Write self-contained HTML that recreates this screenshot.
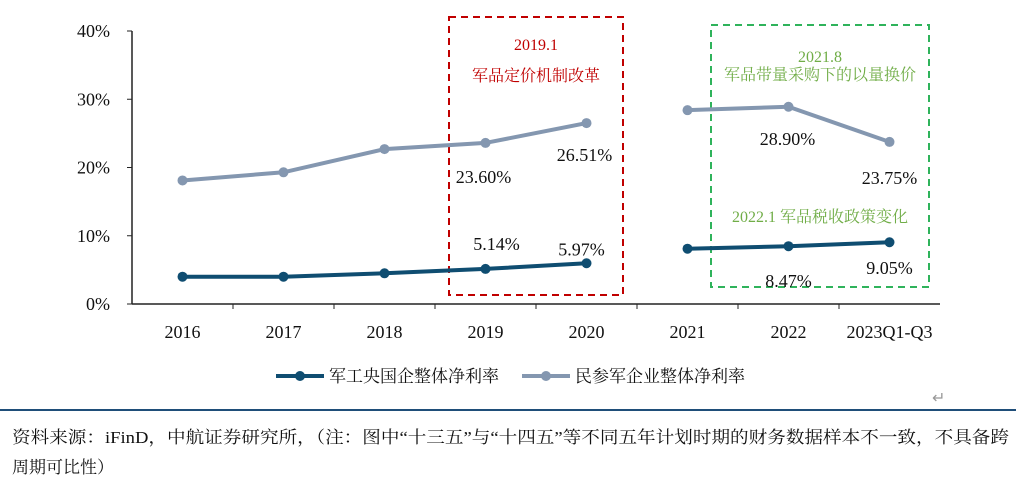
<!DOCTYPE html>
<html><head><meta charset="utf-8"><style>
body{margin:0;background:#fff;width:1016px;height:484px;overflow:hidden;font-family:"Liberation Serif","Noto Serif CJK SC",serif}
svg text{font-family:"Liberation Serif","Noto Serif CJK SC",serif}
</style></head><body>
<svg id="c" width="1016" height="484">
<line x1="0" y1="410" x2="1016" y2="410" stroke="#1f4e79" stroke-width="2"/>
<text x="932" y="403" font-size="16" fill="#999">↵</text>
<text x="12" y="443" font-size="17" fill="#111" textLength="997" lengthAdjust="spacingAndGlyphs">资料来源：iFinD，中航证券研究所，（注：图中“十三五”与“十四五”等不同五年计划时期的财务数据样本不一致，不具备跨</text>
<text x="12" y="473" font-size="17" fill="#111">周期可比性）</text>
<rect x="449" y="17" width="174" height="278" fill="none" stroke="#c00000" stroke-width="2" stroke-dasharray="7,5"/>
<text x="536" y="50" font-size="16" fill="#c00000" text-anchor="middle">2019.1</text>
<text x="536" y="81" font-size="16" fill="#c00000" text-anchor="middle">军品定价机制改革</text>
<rect x="711" y="25" width="218" height="262" fill="none" stroke="#2fb35b" stroke-width="2" stroke-dasharray="7,5"/>
<text x="820" y="62" font-size="16" fill="#70ad47" text-anchor="middle">2021.8</text>
<text x="820" y="80" font-size="16" fill="#70ad47" text-anchor="middle">军品带量采购下的以量换价</text>
<text x="820" y="222" font-size="16" fill="#70ad47" text-anchor="middle">2022.1 军品税收政策变化</text>
</svg>
<script>
const categories=["2016","2017","2018","2019","2020","2021","2022","2023Q1-Q3"];
const stateOwned=[4.0,4.0,4.5,5.14,5.97,8.1,8.47,9.05];
const privateFirms=[18.1,19.3,22.7,23.60,26.51,28.4,28.90,23.75];
const yTicks=[0,10,20,30,40];
const stateLabels=[null,null,null,"5.14%","5.97%",null,"8.47%","9.05%"];
const privateLabels=[null,null,null,"23.60%","26.51%",null,"28.90%","23.75%"];
const segments=[[0,4],[5,7]];
const NS="http://www.w3.org/2000/svg",svg=document.getElementById('c');
const x0=132,x1=940,y0=304,yTop=31,step=(x1-x0)/categories.length;
const X=i=>x0+step*(i+0.5), Y=v=>y0-(v/40)*(y0-yTop);
function mk(t,a,p){const e=document.createElementNS(NS,t);for(const k in a)e.setAttribute(k,a[k]);(p||svg).appendChild(e);return e;}
let ax=mk('line',{x1:x0,y1:y0,x2:x1,y2:y0,stroke:'#222','stroke-width':1.5});


let ay=mk('line',{x1:x0,y1:yTop,x2:x0,y2:y0,stroke:'#222','stroke-width':1.5});


yTicks.forEach(v=>{const tk=mk('line',{x1:x0-5,y1:Y(v),x2:x0,y2:Y(v),stroke:'#222'});


const t=mk('text',{x:x0-22,y:Y(v)+6,'font-size':18,'text-anchor':'end',fill:'#111'});t.textContent=v+'%';

});
categories.forEach((c,i)=>{if(i>0){const tk=mk('line',{x1:x0+step*i,y1:y0,x2:x0+step*i,y2:y0+5,stroke:'#222'});

}
const t=mk('text',{x:X(i),y:338,'font-size':18,'text-anchor':'middle',fill:'#111'});t.textContent=c;

});
function series(vals,col,name,labels,dy){segments.forEach(([a,b])=>{let pts=[];for(let i=a;i<=b;i++)pts.push(X(i)+','+Y(vals[i]));
const l=mk('polyline',{points:pts.join(' '),fill:'none',stroke:col,'stroke-width':4});

});
vals.forEach((v,i)=>{const c=mk('circle',{cx:X(i),cy:Y(v),r:5,fill:col});


if(labels[i]){const t=mk('text',{x:X(i)+(dy[i][0]),y:Y(v)+dy[i][1],'font-size':18,'text-anchor':'middle',fill:'#111'});t.textContent=labels[i];

}});}
series(privateFirms,'#8497b0','private-firms',privateLabels,[0,0,0,[-2,40],[-2,38],0,[-1,38],[0,42]]);
series(stateOwned,'#0f4d71','state-owned',stateLabels,[0,0,0,[11,-19],[-5,-8],0,[0,41],[0,32]]);
function leg(x,col,txt,name){const l=mk('line',{x1:x,y1:376,x2:x+48,y2:376,stroke:col,'stroke-width':4});


const c=mk('circle',{cx:x+24,cy:376,r:5,fill:col});


const t=mk('text',{x:x+53,y:382,'font-size':17,fill:'#111'});t.textContent=txt;

}
leg(276,'#0f4d71','军工央国企整体净利率','state-owned');
leg(522,'#8497b0','民参军企业整体净利率','private-firms');
</script>
</body></html>
